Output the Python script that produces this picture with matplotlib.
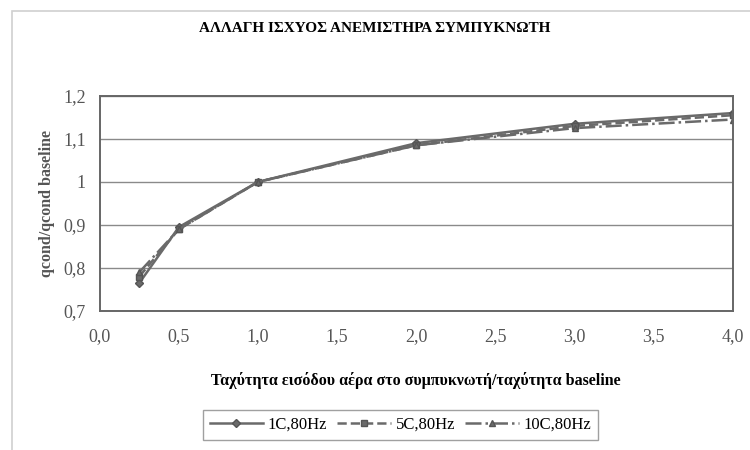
import matplotlib.pyplot as plt
from matplotlib.patches import Rectangle
from matplotlib.ticker import FuncFormatter, MultipleLocator

# data
velocity_ratio = [0.25, 0.5, 1.0, 2.0, 3.0, 4.0]
q_1c = [0.765, 0.895, 1.0, 1.090, 1.135, 1.160]
q_5c = [0.780, 0.890, 1.0, 1.085, 1.130, 1.155]
q_10c = [0.790, 0.890, 1.0, 1.085, 1.125, 1.145]
labels = ["1C,80Hz", "5C,80Hz", "10C,80Hz"]

title = "ΑΛΛΑΓΗ ΙΣΧΥΟΣ ΑΝΕΜΙΣΤΗΡΑ ΣΥΜΠΥΚΝΩΤΗ"
xlabel = "Ταχύτητα εισόδου αέρα στο συμπυκνωτή/ταχύτητα baseline"
ylabel = "qcond/qcond baseline"

plt.rcParams["font.family"] = ["Liberation Serif", "DejaVu Serif"]


def main():
    fig = plt.figure(figsize=(7.5, 4.5), dpi=100)
    # faint outer chart frame
    fig.patches.append(Rectangle((0.016, -0.01), 1.0, 0.985, transform=fig.transFigure,
                                 fill=False, edgecolor="#d0d0d0", linewidth=1.2))

    ax = fig.add_axes([0.133, 0.309, 0.844, 0.478])

    styles = [("-", "D", 4), ("--", "s", 4), ("-.", "^", 5)]
    for y, lab, (ls, mk, ms) in zip([q_1c, q_5c, q_10c], labels, styles):
        ax.plot(velocity_ratio, y, linestyle=ls, marker=mk, markersize=ms,
                color="#6a6a6a", markerfacecolor="#6a6a6a", markeredgecolor="#555555",
                linewidth=1.8, label=lab)

    ax.set_xlim(0, 4)
    ax.set_ylim(0.7, 1.2)
    ax.xaxis.set_major_locator(MultipleLocator(0.5))
    ax.yaxis.set_major_locator(MultipleLocator(0.1))
    ax.xaxis.set_major_formatter(FuncFormatter(lambda v, p: f"{v:.1f}".replace(".", ",")))
    ax.yaxis.set_major_formatter(
        FuncFormatter(lambda v, p: "1" if abs(v - 1) < 1e-9 else f"{v:.1f}".replace(".", ",")))
    ax.grid(axis="y", color="#8a8a8a", linewidth=1.0)
    ax.set_axisbelow(True)
    ax.tick_params(length=0, labelsize=13, colors="#555555")
    ax.tick_params(axis="x", pad=12)
    ax.tick_params(axis="y", pad=10)
    for sp in ax.spines.values():
        sp.set_color("#666666")
        sp.set_linewidth(1.4)

    fig.text(0.499, 0.937, title, ha="center", va="center", fontsize=11, fontweight="bold")
    ax.set_xlabel(xlabel, fontsize=11.5, fontweight="bold", labelpad=20)
    ax.set_ylabel(ylabel, fontsize=11.5, fontweight="bold", color="#555555", labelpad=6)

    leg = ax.legend(loc="center", bbox_to_anchor=(0.475, -0.53), ncol=3, frameon=True,
                    fancybox=False, fontsize=12, handlelength=3.2, columnspacing=0.6,
                    handletextpad=0.3, borderpad=0.4)
    leg.get_frame().set_edgecolor("#888888")
    leg.get_frame().set_linewidth(1.0)

    fig.savefig("out.png", dpi=100)


if __name__ == "__main__":
    main()
